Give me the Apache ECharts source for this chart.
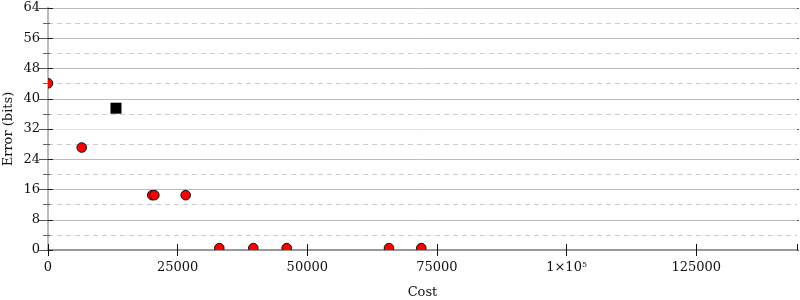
<!DOCTYPE html>
<html>
<head>
<meta charset="utf-8">
<script src="https://cdn.jsdelivr.net/npm/echarts@6/dist/echarts.min.js"></script>
<style>html,body{margin:0;padding:0;background:#fff}#c{width:800px;height:300px}</style>
</head>
<body>
<div id="c"></div>
<script>
const costs = [0, 6500, 20100, 20500, 26550, 33030, 39590, 46030, 65750, 71980];
const errors = [44.1, 27.1, 14.5, 14.5, 14.5, 0.5, 0.5, 0.5, 0.5, 0.5];
const refCost = [13110];
const refError = [37.5];
const xMax = 144430;
const xInterval = 25000;
const yMax = 64;
const yInterval = 8;

const FONT = '"DejaVu Serif", serif';
const chart = echarts.init(document.getElementById('c'), null, {renderer: 'canvas'});

function xLabel(v) {
  if (v % xInterval !== 0) return '';
  if (v === 100000) return '{n|1×10}{s|5}';
  return '{n|' + v + '}';
}

const yBase = {
  type: 'value', min: 0, max: yMax, interval: yInterval,
  axisLabel: {show: false}, splitLine: {show: false}
};
const xBase = {
  type: 'value', min: 0, max: xMax, interval: xInterval,
  axisLabel: {show: false}, splitLine: {show: false}
};

chart.setOption({
  animation: false,
  backgroundColor: '#fff',
  grid: {left: 48, right: 3, top: 8, bottom: 50, containLabel: false, outerBoundsMode: 'none'},
  xAxis: [
    Object.assign({}, xBase, {
      position: 'bottom',
      name: 'Cost', nameLocation: 'middle', nameGap: 36, nameMoveOverlap: false,
      nameTextStyle: {fontFamily: FONT, fontSize: 13, color: '#111'},
      axisLine: {show: true, lineStyle: {color: '#999', width: 2}},
      axisTick: {show: true, inside: false, length: 6, lineStyle: {color: '#111', width: 1}},
      axisLabel: {
        show: true, margin: 11, showMaxLabel: false, formatter: xLabel,
        rich: {
          n: {fontFamily: FONT, fontSize: 13, color: '#111'},
          s: {fontFamily: FONT, fontSize: 8, color: '#111', verticalAlign: 'top', padding: [0, 0, 6, 0]}
        }
      }
    }),
    Object.assign({}, xBase, {
      position: 'bottom',
      axisLine: {show: false},
      axisTick: {show: true, inside: true, length: 6, lineStyle: {color: '#111', width: 1}}
    }),
    Object.assign({}, xBase, {
      position: 'top',
      axisLine: {show: true, lineStyle: {color: '#999', width: 2}},
      axisTick: {show: false}
    })
  ],
  yAxis: [
    Object.assign({}, yBase, {
      position: 'left',
      name: 'Error (bits)', nameLocation: 'middle', nameGap: 33, nameRotate: 90, nameMoveOverlap: false,
      nameTextStyle: {fontFamily: FONT, fontSize: 13, color: '#111'},
      axisLine: {show: true, lineStyle: {color: '#aaa', width: 2}},
      axisTick: {show: true, inside: false, length: 5, lineStyle: {color: '#222', width: 1}},
      minorTick: {show: true, splitNumber: 2, length: 2, lineStyle: {color: '#555', width: 1}},
      axisLabel: {show: true, margin: 8, fontFamily: FONT, fontSize: 13, color: '#111'},
      splitLine: {show: true, lineStyle: {color: ['#bbb','#bbb','#bbb','#bbb','#e0e0e0','#bbb','#bbb','#bbb','#bbb'], width: 1}},
      minorSplitLine: {show: true, lineStyle: {color: '#ccc', width: 1, type: [5, 4]}}
    }),
    Object.assign({}, yBase, {
      position: 'left',
      axisLine: {show: false},
      axisTick: {show: true, inside: true, length: 5, lineStyle: {color: '#222', width: 1}},
      minorTick: {show: true, splitNumber: 2, length: 2, lineStyle: {color: '#555', width: 1}}
    }),
    Object.assign({}, yBase, {
      position: 'right',
      axisLine: {show: true, lineStyle: {color: '#bbb', width: 2}},
      axisTick: {show: true, inside: true, length: 9, lineStyle: {color: '#555', width: 1}},
      minorTick: {show: true, splitNumber: 2, length: 5, lineStyle: {color: '#666', width: 1}}
    }),
    Object.assign({}, yBase, {
      position: 'right',
      axisLine: {show: false},
      axisTick: {show: true, inside: false, length: 2, lineStyle: {color: '#555', width: 1}},
      minorTick: {show: false}
    })
  ],
  series: [
    {
      type: 'custom', xAxisIndex: 0, yAxisIndex: 0, clip: true, z: 5,
      data: costs.map((c, i) => [c, errors[i]]),
      renderItem: function (params, api) {
        const p = api.coord([api.value(0), api.value(1)]);
        return {type: 'circle', shape: {cx: p[0], cy: p[1], r: 4.8},
          style: {fill: '#ff0000', stroke: '#111', lineWidth: 1}};
      }
    },
    {
      type: 'custom', xAxisIndex: 0, yAxisIndex: 0, clip: true, z: 5,
      data: refCost.map((c, i) => [c, refError[i]]),
      renderItem: function (params, api) {
        const p = api.coord([api.value(0), api.value(1)]);
        return {type: 'rect', shape: {x: p[0] - 5.5, y: p[1] - 5.5, width: 11, height: 11},
          style: {fill: '#000'}};
      }
    }
  ]
});
</script>
</body>
</html>
